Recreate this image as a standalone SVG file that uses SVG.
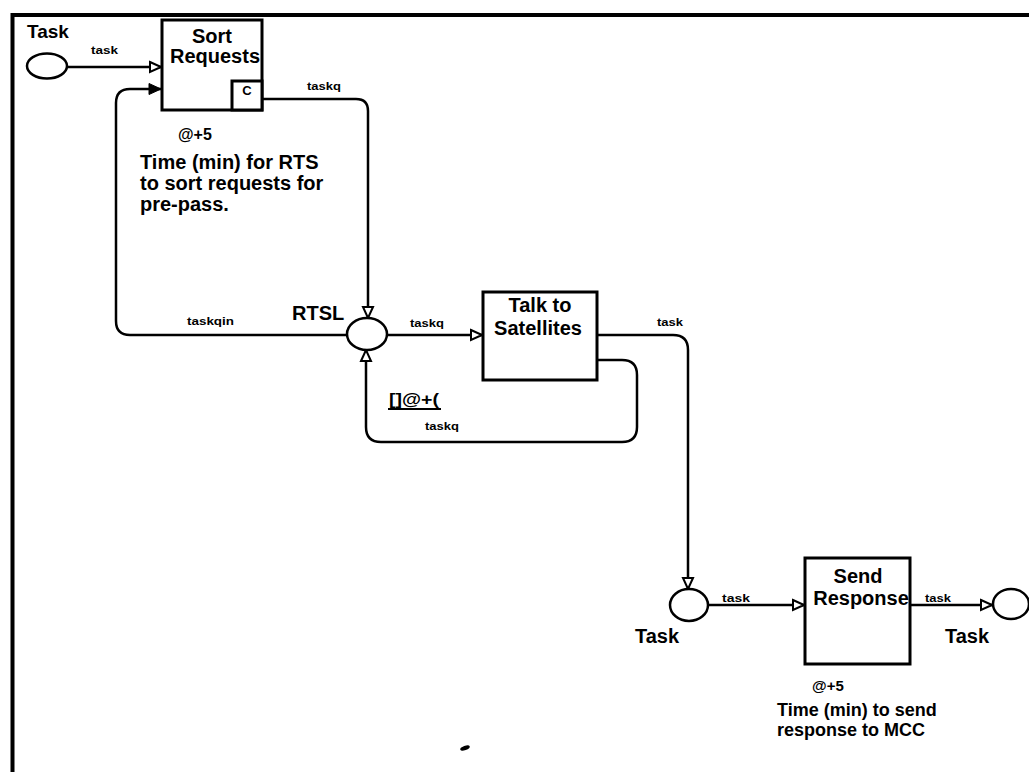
<svg xmlns="http://www.w3.org/2000/svg" width="1029" height="772" viewBox="0 0 1029 772">
<style>
.box{fill:#fff;stroke:#000;stroke-width:3}
.pl{fill:#fff;stroke:#000;stroke-width:2.5}
.ln{fill:none;stroke:#000;stroke-width:2.5}
.t{font-family:"Liberation Sans",Arial,sans-serif;font-weight:bold;fill:#000}
.big{font-size:20px}
.sm{font-size:11px}
.mid{text-anchor:middle}
</style>
<defs>
<marker id="open" viewBox="0 0 14 14" refX="12.5" refY="7" markerWidth="14" markerHeight="14" orient="auto" markerUnits="userSpaceOnUse">
<path d="M1.5,2 L12.5,7 L1.5,12 z" fill="#fff" stroke="#000" stroke-width="2"/>
</marker>
<marker id="fill" viewBox="0 0 14 14" refX="13" refY="7" markerWidth="14" markerHeight="14" orient="auto" markerUnits="userSpaceOnUse">
<path d="M1,1.5 L13,7 L1,12.5 z" fill="#000" stroke="#000" stroke-width="1"/>
</marker>
</defs>
<rect width="1029" height="772" fill="#fff"/>
<path d="M12.5,772 V15 H1029" fill="none" stroke="#000" stroke-width="4"/>

<g id="connectors">
<path class="ln" d="M68,67 H161" marker-end="url(#open)"/>
<path class="ln" d="M262,99 H356 Q368,99 368,111 V318" marker-end="url(#open)"/>
<path class="ln" d="M347,335 H130 Q116,335 116,321 V103 Q116,89 130,89 H161" marker-end="url(#fill)"/>
<path class="ln" d="M387,335 H482" marker-end="url(#open)"/>
<path class="ln" d="M597,360 H622 Q637,360 637,375 V427 Q637,442 622,442 H381 Q366,442 366,427 V350" marker-end="url(#open)"/>
<path class="ln" d="M597,335 H673 Q688,335 688,350 V589" marker-end="url(#open)"/>
<path class="ln" d="M708,605 H804" marker-end="url(#open)"/>
<path class="ln" d="M910,605 H992" marker-end="url(#open)"/>
<text class="t sm" x="91" y="54" textLength="27" lengthAdjust="spacingAndGlyphs">task</text>
<text class="t sm" x="307" y="90" textLength="34" lengthAdjust="spacingAndGlyphs">taskq</text>
<text class="t sm" x="187" y="325" textLength="47" lengthAdjust="spacingAndGlyphs">taskqin</text>
<text class="t sm" x="410" y="327" textLength="34" lengthAdjust="spacingAndGlyphs">taskq</text>
<text class="t sm" x="425" y="430" textLength="34" lengthAdjust="spacingAndGlyphs">taskq</text>
<text class="t sm" x="657" y="326" textLength="26" lengthAdjust="spacingAndGlyphs">task</text>
<text class="t sm" x="722" y="602" textLength="28" lengthAdjust="spacingAndGlyphs">task</text>
<text class="t sm" x="925" y="602" textLength="26" lengthAdjust="spacingAndGlyphs">task</text>
<text class="t" x="389" y="405" font-size="17" textLength="50" lengthAdjust="spacingAndGlyphs">[]@+(</text>
<path d="M388,409 H441" stroke="#000" stroke-width="2"/>
</g>

<g id="task-in">
<ellipse class="pl" cx="47" cy="66" rx="20" ry="12.5"/>
<text class="t" x="27" y="38" font-size="19">Task</text>
</g>

<g id="sort-requests">
<rect class="box" x="162" y="20" width="100" height="90"/>
<rect class="box" x="232" y="81" width="30" height="29"/>
<text class="t mid" x="247" y="95" font-size="13">C</text>
<text class="t big mid" x="212" y="43">Sort</text>
<text class="t big mid" x="215" y="63">Requests</text>
<text class="t" x="178" y="140" font-size="16">@+5</text>
<text class="t big" x="140" y="169">Time (min) for RTS</text>
<text class="t big" x="140" y="190">to sort requests for</text>
<text class="t big" x="140" y="211">pre-pass.</text>
</g>

<g id="rtsl">
<ellipse class="pl" cx="367" cy="334" rx="20" ry="16"/>
<text class="t" x="292" y="320" font-size="20">RTSL</text>
</g>

<g id="talk-to-satellites">
<rect class="box" x="483" y="292" width="114" height="88"/>
<text class="t big mid" x="540" y="312">Talk to</text>
<text class="t big mid" x="538" y="335">Satellites</text>
</g>

<g id="task-mid">
<ellipse class="pl" cx="689" cy="605" rx="19" ry="16"/>
<text class="t" x="635" y="643" font-size="20">Task</text>
</g>

<g id="send-response">
<rect class="box" x="805" y="558" width="105" height="106"/>
<text class="t big mid" x="858" y="583">Send</text>
<text class="t big mid" x="861" y="605">Response</text>
<text class="t" x="812" y="691" font-size="15">@+5</text>
<text class="t" x="777" y="716" font-size="18">Time (min) to send</text>
<text class="t" x="777" y="736" font-size="18">response to MCC</text>
</g>

<g id="task-out">
<ellipse class="pl" cx="1011" cy="604" rx="18" ry="15"/>
<text class="t" x="945" y="643" font-size="20">Task</text>
</g>

<ellipse cx="465" cy="748" rx="5" ry="2.2" transform="rotate(-20 465 748)" fill="#000"/>
</svg>
